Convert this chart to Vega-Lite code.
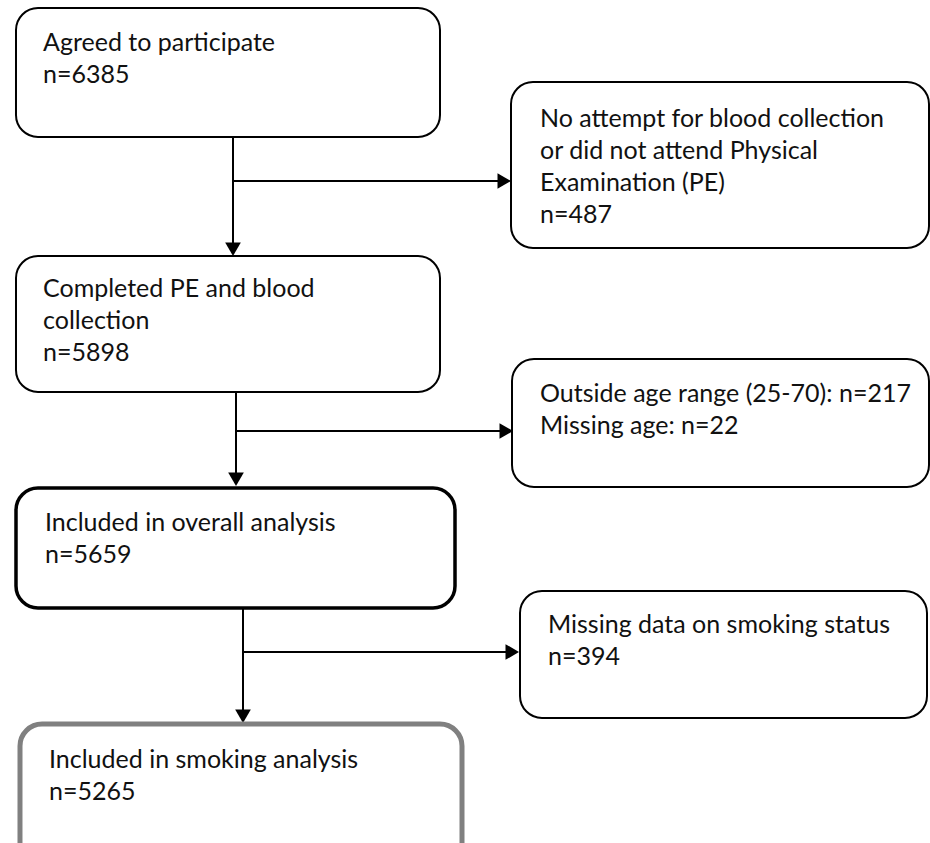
{
  "$schema": "https://vega.github.io/schema/vega-lite/v6.json",
  "width": 930,
  "height": 843,
  "autosize": {"type": "fit", "contains": "padding"},
  "padding": 0,
  "background": "white",
  "config": {"view": {"stroke": null}},
  "datasets": {
    "boxes": [
      {"id": "agreed", "x1": 16, "x2": 440, "y1": 8, "y2": 137, "kind": "step"},
      {"id": "noblood", "x1": 511, "x2": 929, "y1": 82, "y2": 248, "kind": "step"},
      {"id": "completed", "x1": 16, "x2": 440, "y1": 256, "y2": 392, "kind": "step"},
      {"id": "age", "x1": 512, "x2": 929, "y1": 359, "y2": 487, "kind": "step"},
      {"id": "smokmiss", "x1": 520, "x2": 927, "y1": 591, "y2": 718, "kind": "step"},
      {"id": "overall", "x1": 16, "x2": 455, "y1": 488, "y2": 608, "kind": "overall"},
      {"id": "smoking", "x1": 20, "x2": 462, "y1": 724, "y2": 870, "kind": "smoking"}
    ],
    "labels": [
      {"id": "agreed", "x": 43, "y": 51, "text": ["Agreed to participate", "n=6385"]},
      {"id": "noblood", "x": 540, "y": 127, "text": ["No attempt for blood collection", "or did not attend Physical", "Examination (PE)", "n=487"]},
      {"id": "completed", "x": 43, "y": 297, "text": ["Completed PE and blood", "collection", "n=5898"]},
      {"id": "age", "x": 540, "y": 402, "text": ["Outside age range (25-70): n=217", "Missing age: n=22"]},
      {"id": "smokmiss", "x": 548, "y": 633, "text": ["Missing data on smoking status", "n=394"]},
      {"id": "overall", "x": 45, "y": 531, "text": ["Included in overall analysis", "n=5659"]},
      {"id": "smoking", "x": 49, "y": 768, "text": ["Included in smoking analysis", "n=5265"]}
    ],
    "links": [
      {"x1": 233, "y1": 137, "x2": 233, "y2": 250},
      {"x1": 233, "y1": 181, "x2": 505, "y2": 181},
      {"x1": 236, "y1": 392, "x2": 236, "y2": 480},
      {"x1": 236, "y1": 431, "x2": 508, "y2": 431},
      {"x1": 243, "y1": 608, "x2": 243, "y2": 718},
      {"x1": 243, "y1": 652, "x2": 513, "y2": 652}
    ],
    "arrows": [
      {"x": 233, "y": 256, "dir": "down"},
      {"x": 511, "y": 181, "dir": "right"},
      {"x": 236, "y": 486, "dir": "down"},
      {"x": 513, "y": 431, "dir": "right"},
      {"x": 243, "y": 723, "dir": "down"},
      {"x": 519, "y": 652, "dir": "right"}
    ]
  },
  "layer": [
    {
      "data": {"name": "links"},
      "mark": {"type": "rule", "color": "black", "strokeWidth": 2},
      "encoding": {
        "x": {"field": "x1", "type": "quantitative", "scale": {"domain": [0, 930], "nice": false, "zero": false}, "axis": null},
        "y": {"field": "y1", "type": "quantitative", "scale": {"domain": [0, 843], "nice": false, "zero": false, "reverse": true}, "axis": null},
        "x2": {"field": "x2"},
        "y2": {"field": "y2"}
      }
    },
    {
      "data": {"name": "arrows"},
      "mark": {"type": "point", "filled": true, "color": "black", "opacity": 1, "size": 729, "strokeWidth": 0},
      "encoding": {
        "x": {"field": "x", "type": "quantitative"},
        "y": {"field": "y", "type": "quantitative"},
        "shape": {"field": "dir", "type": "nominal", "scale": {"domain": ["down", "right"], "range": ["M0,0L-0.58,-1L0.58,-1Z", "M0,0L-1,-0.58L-1,0.58Z"]}, "legend": null}
      }
    },
    {
      "data": {"name": "boxes"},
      "mark": {"type": "rect", "fill": "white", "cornerRadius": 22, "clip": true},
      "encoding": {
        "x": {"field": "x1", "type": "quantitative"},
        "x2": {"field": "x2"},
        "y": {"field": "y1", "type": "quantitative"},
        "y2": {"field": "y2"},
        "stroke": {"field": "kind", "type": "nominal", "scale": {"domain": ["step", "overall", "smoking"], "range": ["#000000", "#000000", "#808080"]}, "legend": null},
        "strokeWidth": {"field": "kind", "type": "ordinal", "scale": {"domain": ["step", "overall", "smoking"], "range": [2, 5, 4]}, "legend": null}
      }
    },
    {
      "data": {"name": "labels"},
      "mark": {"type": "text", "align": "left", "baseline": "alphabetic", "font": "Lato", "fontSize": 25, "lineHeight": 32, "color": "#111111"},
      "encoding": {
        "x": {"field": "x", "type": "quantitative"},
        "y": {"field": "y", "type": "quantitative"},
        "text": {"field": "text"}
      }
    }
  ]
}
